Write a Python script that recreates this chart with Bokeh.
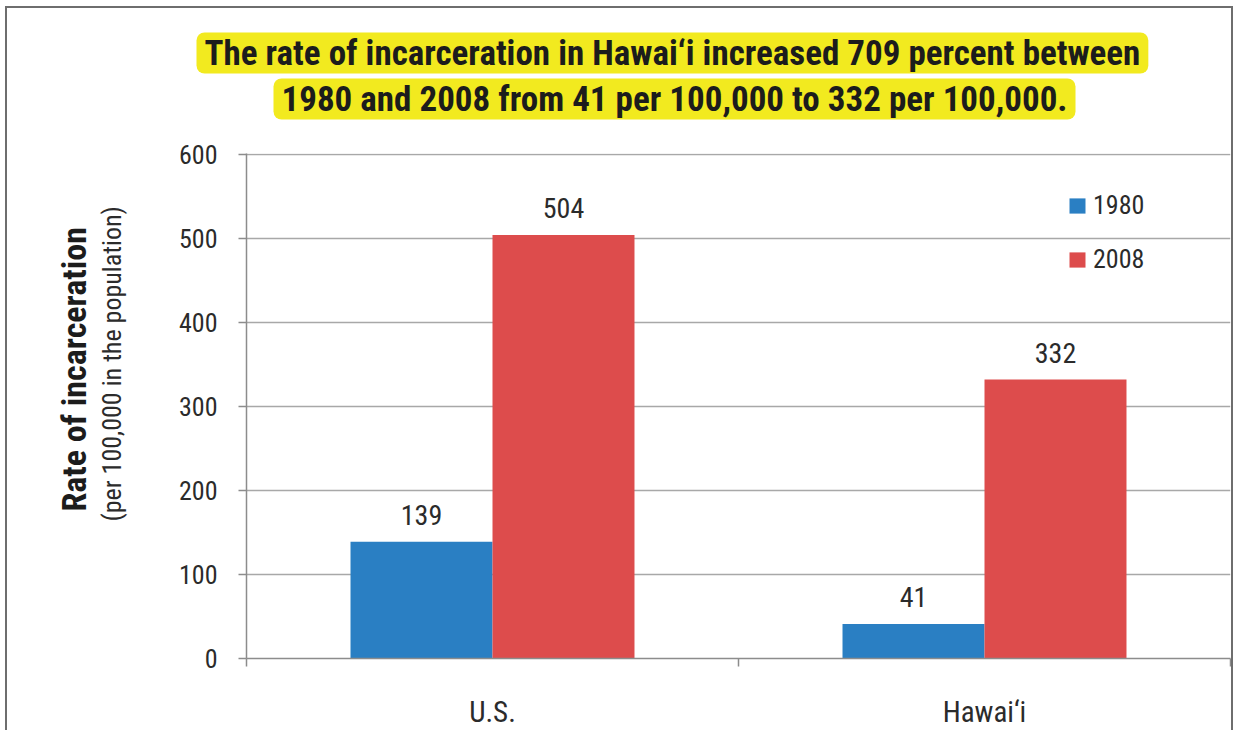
from bokeh.plotting import figure
from bokeh.models import (ColumnDataSource, LabelSet, LinearAxis, CategoricalAxis, Title,
                          FixedTicker, Range1d, FactorRange, Legend, LegendItem)
from bokeh.transform import dodge
from bokeh.core.properties import value
from bokeh.embed import file_html
from bokeh.resources import INLINE

categories = ["U.S.", "Hawai\u2018i"]
rate_1980 = [139, 41]
rate_2008 = [504, 332]
y_ticks = [0, 100, 200, 300, 400, 500, 600]
title_line1 = "The rate of incarceration in Hawai\u2018i increased 709 percent between"
title_line2 = "1980 and 2008 from 41 per 100,000 to 332 per 100,000."
ytitle_main = "Rate of incarceration"
ytitle_sub = "(per 100,000 in the population)"

FONT = "Roboto Condensed"
BLUE = "#2a7fc3"
RED = "#dd4c4c"
TXT = "#2b2b2b"
DARK = "#1c1c1c"
GRID = "#a8a8a8"
AXC = "#8c8c8c"
HL = "#f2ea1f"

src = ColumnDataSource(dict(
    cats=categories, r1980=rate_1980, r2008=rate_2008,
    t1980=[str(v) for v in rate_1980], t2008=[str(v) for v in rate_2008]))

W, H = 1228, 724
p = figure(width=W, height=H, x_range=FactorRange(*categories),
           y_range=Range1d(0, 601), output_backend="svg", toolbar_location=None,
           x_axis_location=None, min_border_left=239, min_border_right=5,
           min_border_top=145, min_border_bottom=H - 145 - 505)
p.styles = {"border-left": "2px solid #6e6e6e", "border-top": "2px solid #6e6e6e",
            "border-right": "2px solid #6e6e6e", "margin-left": "5px", "margin-top": "6px"}
p.outline_line_color = None
p.background_fill_color = "white"

bw = 0.2886
b1 = p.vbar(x=dodge("cats", -bw / 2, range=p.x_range), top="r1980", width=bw,
            source=src, fill_color=BLUE, line_color=None)
b2 = p.vbar(x=dodge("cats", bw / 2, range=p.x_range), top="r2008", width=bw,
            source=src, fill_color=RED, line_color=None)

for field, tfield, off in (("r1980", "t1980", -bw / 2), ("r2008", "t2008", bw / 2)):
    p.add_layout(LabelSet(x=dodge("cats", off, range=p.x_range), y=field, text=tfield,
                          source=src, y_offset=17, text_align="center",
                          text_baseline="alphabetic", text_font=value(FONT),
                          text_font_size="28px", text_color=TXT))


def spacer(size, tick):
    # blank axis used only to reserve space between side panels
    ax = LinearAxis(ticker=FixedTicker(ticks=[tick]))
    ax.axis_line_color = None
    ax.major_tick_line_color = "white"
    ax.minor_tick_line_color = None
    ax.major_tick_out = size
    ax.major_tick_in = 0
    ax.major_label_standoff = 0
    ax.major_label_text_alpha = 0
    ax.major_label_text_font_size = "2px"
    return ax


# y axis
ya = p.yaxis[0]
ya.ticker = FixedTicker(ticks=y_ticks)
ya.axis_line_color = AXC
ya.axis_line_width = 1.5
ya.major_tick_line_color = AXC
ya.major_tick_line_width = 1.5
ya.major_tick_out = 8
ya.major_tick_in = 0
ya.minor_tick_line_color = None
ya.major_label_text_font = FONT
ya.major_label_text_font_size = "26px"
ya.major_label_text_color = TXT
ya.major_label_standoff = 21

p.add_layout(spacer(48, 601), "left")
p.add_layout(Title(text=ytitle_sub, align="left", offset=137, standoff=2,
                   text_font=FONT, text_font_style="normal", text_font_size="26px",
                   text_color=TXT), "left")
p.add_layout(Title(text=ytitle_main, align="left", offset=147, standoff=0,
                   text_font=FONT, text_font_style="bold", text_font_size="34px",
                   text_color=DARK), "left")

p.ygrid.ticker = FixedTicker(ticks=y_ticks)
p.ygrid.grid_line_color = GRID
p.ygrid.grid_line_width = 1.5
p.xgrid.grid_line_color = None

# x axis: boundary ticks + category labels
tick_axis = LinearAxis(ticker=FixedTicker(ticks=[0, 1, 2]))
tick_axis.axis_line_color = AXC
tick_axis.axis_line_width = 1.5
tick_axis.major_tick_line_color = AXC
tick_axis.major_tick_line_width = 1.5
tick_axis.major_tick_out = 8
tick_axis.major_tick_in = 0
tick_axis.minor_tick_line_color = None
tick_axis.major_label_text_alpha = 0
tick_axis.major_label_text_font_size = "2px"
tick_axis.major_label_standoff = 0
p.add_layout(tick_axis, "below")

cat_axis = CategoricalAxis()
cat_axis.axis_line_color = None
cat_axis.major_tick_line_color = None
cat_axis.major_label_text_font = FONT
cat_axis.major_label_text_font_size = "29px"
cat_axis.major_label_text_color = TXT
cat_axis.major_label_standoff = 22
p.add_layout(cat_axis, "below")

# legend
legend = Legend(items=[LegendItem(label="1980", renderers=[b1]),
                       LegendItem(label="2008", renderers=[b2])],
                location=(821, 384), orientation="vertical")
legend.border_line_color = None
legend.background_fill_alpha = 0
legend.padding = 0
legend.margin = 0
legend.glyph_width = 20
legend.glyph_height = 19
legend.label_standoff = 6
legend.spacing = 24
legend.label_text_font = FONT
legend.label_text_font_size = "26px"
legend.label_text_color = TXT
p.add_layout(legend, "center")

# highlighted two-line title
p.add_layout(spacer(32, 2), "above")
p.add_layout(Title(text=title_line2, align="left", offset=27, standoff=4,
                   text_font=FONT, text_font_style="bold", text_font_size="35px",
                   text_color=DARK, background_fill_color=HL,
                   padding=(8, 0), border_radius=8), "above")
p.add_layout(Title(text=title_line1, align="left", offset=-50, standoff=2,
                   text_font=FONT, text_font_style="bold", text_font_size="35px",
                   text_color=DARK, background_fill_color=HL,
                   padding=(8, 0), border_radius=8), "above")

open("out.html", "w").write(file_html(p, INLINE))
